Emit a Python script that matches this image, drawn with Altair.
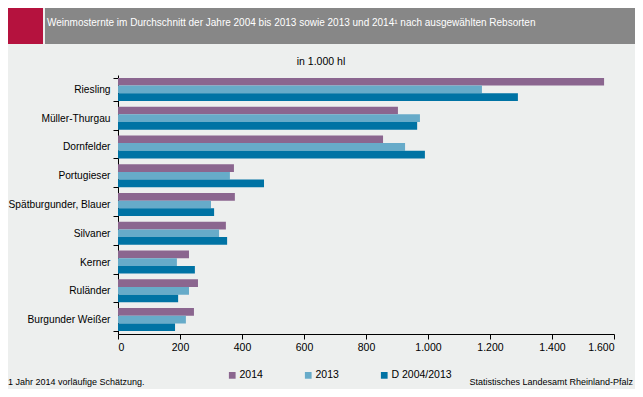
import altair as alt
import pandas as pd

sorten = ["Riesling", "Müller-Thurgau", "Dornfelder", "Portugieser",
          "Spätburgunder, Blauer", "Silvaner", "Kerner", "Ruländer", "Burgunder Weißer"]
series = ["2014", "2013", "D 2004/2013"]
v2014 = [1568, 903, 855, 374, 377, 348, 229, 258, 245]
v2013 = [1174, 974, 926, 361, 300, 326, 190, 229, 219]
vavg = [1290, 965, 990, 471, 310, 352, 248, 194, 184]
colors = ["#8B668F", "#67ABC9", "#0073A4"]
ticks = [0, 200, 400, 600, 800, 1000, 1200, 1400, 1600]

rows = []
for i, s in enumerate(sorten):
    for name, vals in zip(series, [v2014, v2013, vavg]):
        rows.append({"Sorte": s, "Reihe": name, "Wert": vals[i]})
df = pd.DataFrame(rows)

FONT = "Liberation Sans"

bars = alt.Chart(df).mark_bar().encode(
    x=alt.X("Wert:Q", scale=alt.Scale(domain=[0, 1600], nice=False),
            axis=alt.Axis(values=ticks, title=None, grid=False,
                          labelExpr="replace(format(datum.value, ',d'), ',', '.')",
                          domainColor="black", tickColor="black", tickSize=5,
                          labelFontSize=10.5, labelFont=FONT, labelColor="#000",
                          labelPadding=3)),
    y=alt.Y("Sorte:N", sort=sorten,
            scale=alt.Scale(paddingInner=0.2, paddingOuter=0.1),
            axis=alt.Axis(title=None, tickBand="extent", domainColor="black",
                          tickColor="black", tickSize=5, labelFontSize=10.2,
                          labelFont=FONT, labelColor="#000", labelPadding=3)),
    yOffset=alt.YOffset("Reihe:N", sort=series),
    color=alt.Color("Reihe:N", sort=series,
                    scale=alt.Scale(domain=series, range=colors),
                    legend=alt.Legend(title=None, orient="none", direction="horizontal",
                                      legendX=109, legendY=295, symbolType="square",
                                      symbolSize=45, symbolStrokeWidth=0,
                                      labelFontSize=10.5, labelFont=FONT,
                                      labelColor="#000", columnPadding=40,
                                      labelOffset=2)),
)

one = pd.DataFrame({"a": [0]})
red = alt.Chart(one).mark_rect(color="#B5123E").encode(
    x=alt.value(-110), x2=alt.value(-75), y=alt.value(-67), y2=alt.value(-31))
grey = alt.Chart(one).mark_rect(color="#878787").encode(
    x=alt.value(-73), x2=alt.value(517), y=alt.value(-67), y2=alt.value(-31))
title = alt.Chart(one).mark_text(
    text="Weinmosternte im Durchschnitt der Jahre 2004 bis 2013 sowie 2013 und 2014¹ nach ausgewählten Rebsorten",
    align="left", baseline="middle", color="white", font=FONT, fontSize=10
).encode(x=alt.value(-71), y=alt.value(-52))
sub = alt.Chart(one).mark_text(
    text="in 1.000 hl", align="center", baseline="middle", color="#000",
    font=FONT, fontSize=10.5).encode(x=alt.value(203), y=alt.value(-13))
foot = alt.Chart(one).mark_text(
    text="1 Jahr 2014 vorläufige Schätzung.", align="left", baseline="middle",
    color="#000", font=FONT, fontSize=9).encode(x=alt.value(-110), y=alt.value(307))
src = alt.Chart(one).mark_text(
    text="Statistisches Landesamt Rheinland-Pfalz", align="right", baseline="middle",
    color="#000", font=FONT, fontSize=9).encode(x=alt.value(515), y=alt.value(307))

chart = alt.layer(red, grey, title, sub, bars, foot, src).properties(
    width=496, height=259,
    autosize=alt.AutoSizeParams(type="none"),
    padding={"left": 110, "right": 21, "top": 67, "bottom": 55},
    background="#EDEFEE",
).configure_view(stroke=None)

chart.save("out.html", embed_options={"renderer": "svg", "actions": False})
